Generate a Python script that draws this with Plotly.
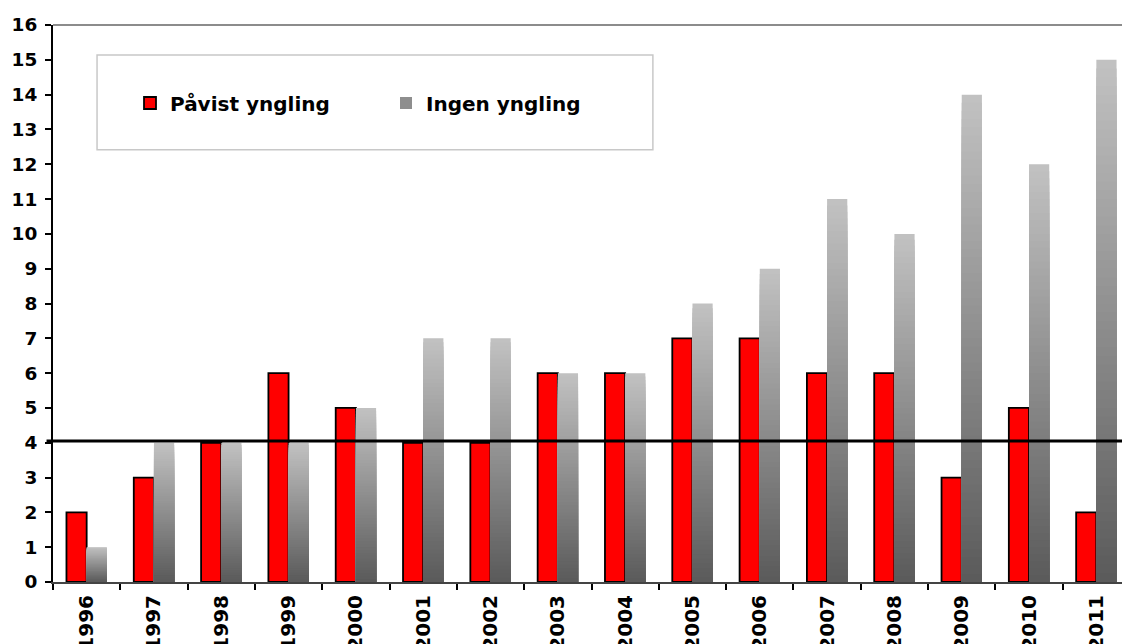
import plotly.graph_objects as go

years = [str(y) for y in range(1996, 2012)]
pavist = [2, 3, 4, 6, 5, 4, 4, 6, 6, 7, 7, 6, 6, 3, 5, 2]
ingen = [1, 4, 4, 4, 5, 7, 7, 6, 6, 8, 9, 11, 10, 14, 12, 15]
REF_LINE = 4.05
y_ticks = list(range(0, 17))

N_SEG = 60
DARK = (0x5a, 0x5a, 0x5a)
LIGHT = (0xc2, 0xc2, 0xc2)


def mix(t):
    c = [round(DARK[i] + (LIGHT[i] - DARK[i]) * t) for i in range(3)]
    return f"rgb({c[0]},{c[1]},{c[2]})"


# gradient: nested bars from base 0, tallest (lightest) first, shorter darker ones on top
seg_x, seg_h, seg_col = [], [], []
for yr, v in zip(years, ingen):
    for k in range(N_SEG):
        frac = (N_SEG - k) / N_SEG
        seg_x.append(yr)
        seg_h.append(v * frac)
        seg_col.append(mix(frac - 0.5 / N_SEG))

FAM = "DejaVu Sans, Arial, sans-serif"
bold = dict(family=FAM, size=18.5, color="black", weight="bold")
xbold = dict(family=FAM, size=20, color="black", weight="bold")
lbold = dict(family=FAM, size=20, color="black", weight="bold")

fig = go.Figure()
fig.add_trace(go.Bar(
    x=years, y=pavist, name="Påvist yngling",
    offset=-0.3, width=0.3,
    marker=dict(color="#ff0000", line=dict(color="black", width=1.8)),
))
fig.add_trace(go.Bar(
    x=seg_x, y=seg_h, showlegend=False,
    offset=0.0, width=0.3,
    marker=dict(color=seg_col, line=dict(width=0)),
    hoverinfo="skip",
))
fig.add_trace(go.Bar(
    x=[None], y=[None], name="Ingen yngling",
    marker=dict(color="#8e8e8e", line=dict(width=0)),
))

fig.add_hline(y=REF_LINE, x0=-0.006, x1=1, line=dict(color="black", width=3))
fig.add_shape(type="line", xref="paper", yref="paper", x0=0, x1=1, y0=1, y1=1,
              line=dict(color="#8c8c8c", width=2))
fig.add_shape(type="rect", xref="paper", yref="paper",
              x0=0.0409, x1=0.557, y0=0.776, y1=0.946,
              line=dict(color="#c8c8c8", width=1.5), fillcolor="white", layer="below")

fig.update_layout(
    width=1122, height=636,
    margin=dict(l=45, r=0, t=17, b=62, autoexpand=False),
    barmode="overlay",
    plot_bgcolor="white", paper_bgcolor="white",
    font=bold,
    showlegend=True,
    legend=dict(
        orientation="h", x=0.0715, y=0.86, xanchor="left", yanchor="middle",
        font=lbold, bgcolor="rgba(0,0,0,0)", entrywidth=211, entrywidthmode="pixels",
        traceorder="normal",
    ),
    xaxis=dict(
        type="category", categoryorder="array", categoryarray=years,
        showline=True, linecolor="#444444", linewidth=2,
        ticks="outside", tickson="boundaries", ticklen=6, tickcolor="black", tickwidth=2,
        tickangle=-90, tickfont=xbold, ticklabelstandoff=3,
        automargin=False, showgrid=False, zeroline=False,
    ),
    yaxis=dict(
        range=[0, 16], tickvals=y_ticks, showline=True, linecolor="black", linewidth=2,
        ticks="outside", ticklen=6, tickcolor="black", tickwidth=2,
        tickfont=bold, automargin=False, showgrid=False, zeroline=False,
        ticklabelstandoff=4,
    ),
)

fig.write_html("out.html")
